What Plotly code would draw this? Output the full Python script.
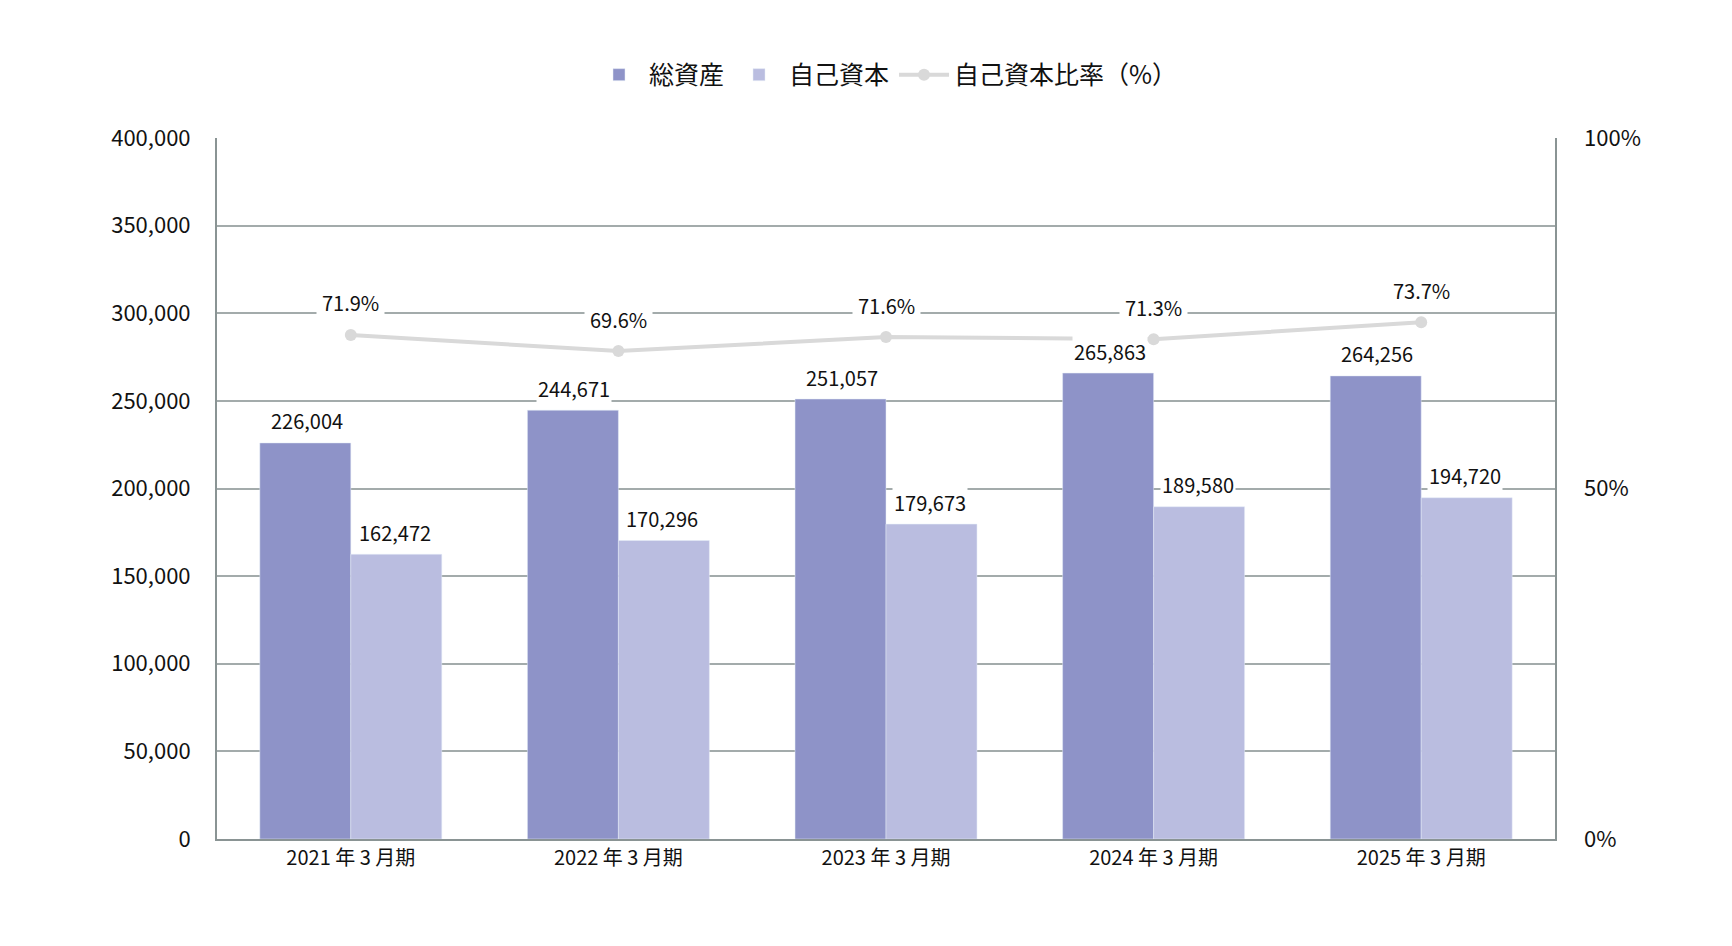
import plotly.graph_objects as go

periods = ["2021 年 3 月期", "2022 年 3 月期", "2023 年 3 月期", "2024 年 3 月期", "2025 年 3 月期"]
total_assets = [226004, 244671, 251057, 265863, 264256]
equity = [162472, 170296, 179673, 189580, 194720]
equity_ratio = [71.9, 69.6, 71.6, 71.3, 73.7]

font = "Noto Sans CJK JP, Noto Sans, sans-serif"
c_assets = "#8e93c8"
c_equity = "#babde0"
c_line = "#d9d9d9"

fig = go.Figure()
fig.add_trace(go.Bar(x=periods, y=total_assets, name="総資産", marker_color=c_assets))
fig.add_trace(go.Bar(x=periods, y=equity, name="自己資本", marker_color=c_equity))
fig.add_trace(go.Scatter(x=periods, y=equity_ratio, name="自己資本比率（%）", yaxis="y2",
                         mode="lines+markers", line=dict(color=c_line, width=4),
                         marker=dict(size=12, color=c_line)))

ann = []
for p, a, e, r in zip(periods, total_assets, equity, equity_ratio):
    for v, sh in ((a, -44), (e, 44)):
        ann.append(dict(x=p, y=v, text=f"{v:,}", xshift=sh, yshift=22, showarrow=False,
                        bgcolor="white", font=dict(size=20, color="#111")))
    ann.append(dict(x=p, y=r, yref="y2", text=f"{r}%", yshift=32, showarrow=False,
                    bgcolor="white", borderpad=5, font=dict(size=20, color="#111")))

fig.update_layout(
    width=1732, height=946, paper_bgcolor="white", plot_bgcolor="white",
    font=dict(family=font, size=19, color="#111"),
    margin=dict(l=209, r=185, t=130, b=115),
    barmode="group", bargap=0.32, bargroupgap=0,
    legend=dict(orientation="h", x=0.5, xanchor="center", y=1.09, yanchor="middle",
                font=dict(size=25), itemwidth=50, traceorder="normal"),
    xaxis=dict(showline=True, linecolor="#8a9494", linewidth=2,
               tickfont=dict(size=20)),
    yaxis=dict(range=[0, 400000], dtick=50000, tickformat=",", gridcolor="#a3abab",
               gridwidth=1.5, showline=True, linecolor="#8a9494", linewidth=2, mirror=True,
               ticklen=0, ticks="outside", tickcolor="white", ticklabelstandoff=20,
               tickfont=dict(size=22)),
    yaxis2=dict(range=[0, 100], tickvals=[0, 50, 100], ticktext=["0%", "50%", "100%"],
                overlaying="y", side="right", showgrid=False, ticklabelstandoff=28,
                tickfont=dict(size=22)),
    annotations=ann,
)
fig.write_html("out.html")
